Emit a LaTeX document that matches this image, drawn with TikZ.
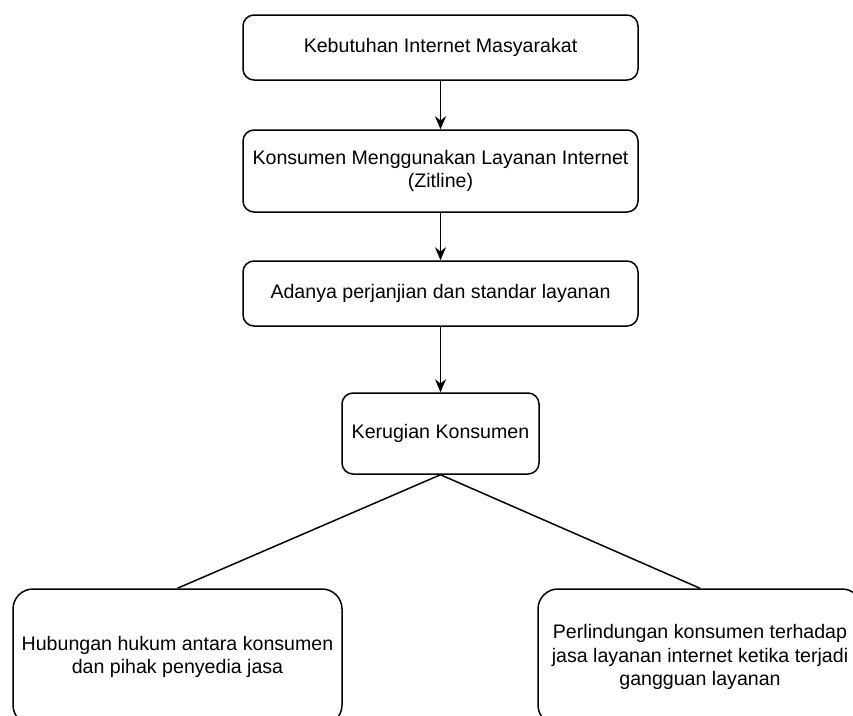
\documentclass[tikz,border=0pt]{standalone}
\usepackage{fontspec}
\setmainfont{Liberation Sans}
\usetikzlibrary{arrows.meta}
\begin{document}
\begin{tikzpicture}[x=1pt,y=-1pt,
  box/.style={draw=black,line width=1.5pt,rounded corners=11pt,fill=white,
    align=center,inner sep=0pt,font=\fontsize{19.6pt}{23.5pt}\selectfont},
  bigbox/.style={box,rounded corners=20pt},
  arr/.style={-{Stealth[length=13pt,width=11pt]},line width=1.5pt},
  ln/.style={line width=1.5pt}]
\clip (0,0) rectangle (853,715);
\useasboundingbox (0,0) rectangle (853,715);
\node[box,minimum width=395pt,minimum height=65pt] (b1) at (440.5,47.5) {Kebutuhan Internet Masyarakat};
\node[box,minimum width=395pt,minimum height=82pt] (b2) at (440.5,171) {Konsumen Menggunakan Layanan Internet\\(Zitline)};
\node[box,minimum width=395pt,minimum height=65pt] (b3) at (440.5,293.5) {Adanya perjanjian dan standar layanan};
\node[box,minimum width=197pt,minimum height=81pt] (b4) at (440.5,433.5) {Kerugian Konsumen};
\node[bigbox,minimum width=329pt,minimum height=136pt] (bl) at (177.5,657) {Hubungan hukum antara konsumen\\dan pihak penyedia jasa};
\node[bigbox,minimum width=324pt,minimum height=136pt] (br) at (700,657) {Perlindungan konsumen terhadap\\jasa layanan internet ketika terjadi\\gangguan layanan};
\draw[arr] (b1) -- (b2);
\draw[arr] (b2) -- (b3);
\draw[arr] (b3) -- (b4);
\draw[ln] (b4.south) -- (bl.north);
\draw[ln] (b4.south) -- (br.north);
\end{tikzpicture}
\end{document}
